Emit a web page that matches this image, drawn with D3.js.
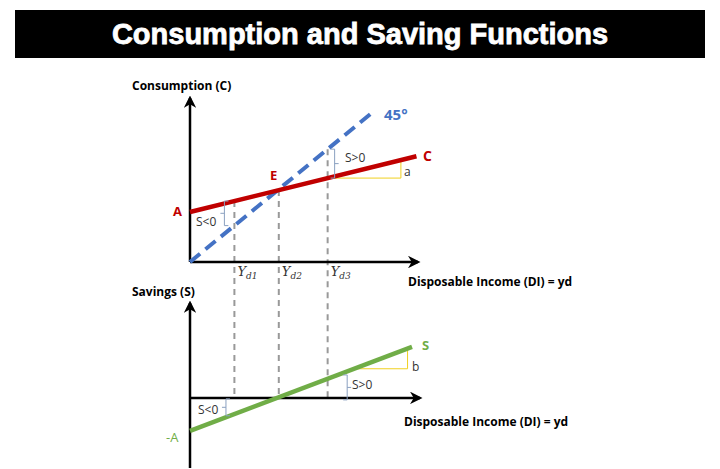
<!DOCTYPE html><html><head><script src="https://cdn.jsdelivr.net/npm/d3@7"></script>
<style>body{margin:0;background:#fff}text{font-family:"Open Sans",Arial,sans-serif}text.title{font-family:"Liberation Sans",Arial,sans-serif}</style></head><body>
<svg id="c" width="720" height="469"></svg>
<script>
const autonomous = 2.75, mpc = 0.3;
const incomeMarks = [2, 4, 6.2];
const incomeLabels = ["d1","d2","d3"];
const consumptionX = [0, 10.2];
const line45X = [0, 8.3];
const savingX = [0, 10];

const svg = d3.select("#c");
const red="#c00000", blue="#4472c4", green="#70ad47", slate="#8aa0c0";
svg.append("rect").attr("x",15).attr("y",10).attr("width",690).attr("height",48).attr("fill","#000");
svg.append("text").attr("class","title").attr("x",360).attr("y",44).attr("text-anchor","middle").attr("fill","#fff")
  .attr("font-size",29).attr("font-weight","bold").attr("stroke","#fff").attr("stroke-width",0.8).text("Consumption and Saving Functions");

const x = d3.scaleLinear().domain([0,10]).range([190,412]);
const yT = d3.scaleLinear().domain([0,8.9]).range([262,100]);
const yB = d3.scaleLinear().domain([-5.6,8]).range([465,302]);
const C = v=>autonomous+mpc*v, S = v=>-autonomous+(1-mpc)*v;

const defs=svg.append("defs");
defs.append("marker").attr("id","ar").attr("viewBox","0 0 10 10").attr("refX",8).attr("refY",5)
 .attr("markerWidth",5).attr("markerHeight",5).attr("orient","auto")
 .append("path").attr("d","M0,0L10,5L0,10L3,5z").attr("fill","#000");

incomeMarks.forEach((m,i)=>{
  const top = i<2?yT(C(m)):yT(m);
  svg.append("line").attr("x1",x(m)).attr("x2",x(m)).attr("y1",top).attr("y2",yB(0))
   .attr("stroke","#999").attr("stroke-width",2).attr("stroke-dasharray","6,5");
  const t=svg.append("text").attr("x",x(m)+3).attr("y",276).attr("font-size",13).attr("font-style","italic")
   .style("font-family","DejaVu Serif").attr("fill","#333");
  t.append("tspan").text("Y");
  t.append("tspan").attr("font-size",9).attr("dy",3).text(incomeLabels[i]);
});

function axis(x1,y1,x2,y2){svg.append("line").attr("x1",x1).attr("y1",y1).attr("x2",x2).attr("y2",y2)
 .attr("stroke","#000").attr("stroke-width",2.5).attr("marker-end","url(#ar)");}
axis(x(0),yT(0),x(0),98); axis(x(0),yT(0),418,yT(0));
axis(x(0),468,x(0),303); axis(x(0),yB(0),420,yB(0));

function tri(x0,x1,f,ys){
  svg.append("path").attr("d",`M${x(x0)},${ys(f(x0))}H${x(x1)}V${ys(f(x1))}`).attr("fill","none").attr("stroke","#f0d020").attr("stroke-width",1);
}
tri(6.2,9.5,C,yT); tri(7.4,9.8,S,yB);

const line=(f,ys)=>d3.line().x(d=>x(d)).y(d=>ys(f(d)));
svg.append("path").datum(line45X).attr("d",line(v=>v,yT)).attr("stroke",blue).attr("stroke-width",4).attr("stroke-dasharray","13,7").attr("fill","none");
svg.append("path").datum(consumptionX).attr("d",line(C,yT)).attr("stroke",red).attr("stroke-width",4.5).attr("fill","none");
svg.append("path").datum(savingX).attr("d",line(S,yB)).attr("stroke",green).attr("stroke-width",4.5).attr("fill","none");

function br(px,y1,y2,side){const d=side*4;
 svg.append("path").attr("d",`M${px},${y1}h${d}V${y2}h${-d}M${px+d},${(y1+y2)/2}h${d}`).attr("stroke",slate).attr("fill","none").attr("stroke-width",1);}
br(x(2)-6,yT(C(2)),yT(2),-1); br(x(6.2)+3,yT(6.2),yT(C(6.2)),1);
br(x(6.9),yB(0)+2,yB(S(6.9))+2,1); br(x(1.8),yB(0)+1,yB(S(1.8)),-1);

function txt(t,X,Y,col,sz,w){svg.append("text").attr("x",X).attr("y",Y).attr("fill",col).attr("font-size",sz)
 .attr("font-weight",w||"normal").text(t);}
txt("Consumption (C)",132,90,"#000",12,"bold");
txt("Savings (S)",132,296,"#000",12,"bold");
txt("Disposable Income (DI) = yd",408,286,"#000",12,"bold");
txt("Disposable Income (DI) = yd",404,426,"#000",12,"bold");
txt("45°",384,120,blue,15,"bold");
txt("C",423,161,red,14,"bold");
txt("E",270,180,red,13,"bold");
txt("A",173,216,red,13,"bold");
txt("S",422,350,green,13,"bold");
txt("-A",166,442,green,13,"normal");
txt("S>0",345,162,"#333",12); txt("a",404,176,"#333",12);
txt("S<0",196,226,"#333",12); txt("b",412,371,"#333",12);
txt("S>0",352,389,"#333",12); txt("S<0",198,414,"#333",12);
</script></body></html>
